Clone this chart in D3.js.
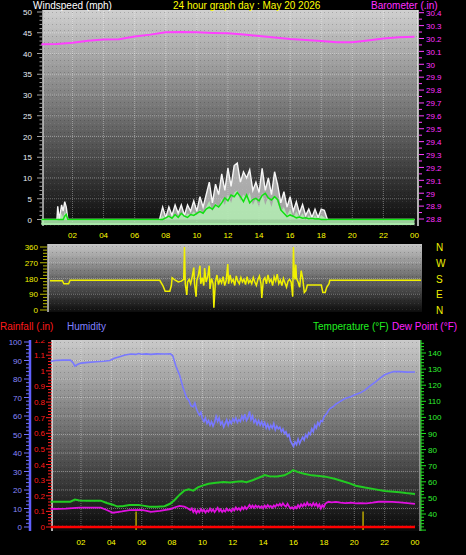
<!DOCTYPE html>
<html><head><meta charset="utf-8">
<script src="https://cdn.jsdelivr.net/npm/d3@7"></script>
<style>body{margin:0;background:#000}svg{display:block}text{font-family:"Liberation Sans",Arial,sans-serif}</style>
</head><body><svg id="c" width="466" height="555"></svg>
<script>
// ---------- DATA ----------
const hourTickVals = [2,4,6,8,10,12,14,16,18,20,22,24];
const hourTickLabels = ["02","04","06","08","10","12","14","16","18","20","22","00"];
const windTicks = [0,5,10,15,20,25,30,35,40,45,50];
const baroTicks = ["28.8","28.9","29","29.1","29.2","29.3","29.4","29.5","29.6","29.7","29.8","29.9","30","30.1","30.2","30.3","30.4"];
const dirTicks = [0,90,180,270,360];
const dirLetters = ["N","E","S","W","N"];
const humTicks = [0,10,20,30,40,50,60,70,80,90,100];
const rainTicks = ["0","0.1","0.2","0.3","0.4","0.5","0.6","0.7","0.8","0.9","1","1.1","1.2"];
const tempTicks = [40,50,60,70,80,90,100,110,120,130,140];

// barometer (inHg) hourly
const baroHours = [0,1,2,3,4,5,6,7,8,9,10,11,12,13,14,15,16,17,18,19,20,21,22,23,24];
const baroVals = [30.155,30.157,30.167,30.183,30.192,30.194,30.215,30.23,30.248,30.25,30.248,30.243,30.24,30.23,30.22,30.207,30.196,30.188,30.18,30.17,30.17,30.185,30.2,30.21,30.214];

// wind (mph)
const windHours = [0,1.0,1.05,1.15,1.3,1.4,1.5,1.6,1.7,7.6,7.8,8.0,8.2,8.4,8.6,8.8,9.0,9.2,9.4,9.6,9.8,10.0,10.2,10.4,10.6,10.8,11.0,11.2,11.4,11.6,11.8,12.0,12.2,12.4,12.6,12.8,13.0,13.2,13.4,13.6,13.8,14.0,14.2,14.4,14.6,14.8,15.0,15.2,15.4,15.6,15.8,16.0,16.2,16.4,16.6,16.8,17.0,17.2,17.4,17.6,17.8,18.0,18.2,18.4,24];
const windGust  = [0,0,3.2,0,3.5,2,4.3,3,0,0,3,0.5,3,1,3.5,1.5,3.5,1,3.5,2,4.5,2,5.5,3,6,9,4,8.5,6,11,7,12.4,8,13,13.6,9,11.5,10,12,7,9,6.5,12.3,7,10,6,11.5,8.3,4,6.7,3,5.5,2,4.3,1.5,3.6,1,2.5,0.5,2.5,0.5,2.5,2.2,0,0];
const windSpeed = [0,0,1,0,1.5,0.5,2,1,0,0,1,0,1,0.5,1.5,0.5,1.5,0.5,1.5,1,2,1,2.5,1.5,3,4.5,2,4,3,5,3.5,6,4,6.5,7,4.5,6,5,6.5,3.5,5,3,6.5,3.5,5.5,3,6,4,2,3,1,2.5,0.5,2,0.5,1.5,0,1,0,1,0,1,0.5,0,0];
const windAvg   = [0,0,0,0,0,0,0.8,1.2,0,0,0,0.4,0.8,0.3,1.2,0.5,1.5,0.8,0.5,1.2,1,1.5,1.9,1.5,2.5,3,2.5,3.5,3,4,5.2,4.5,5.9,5.5,6.5,5.5,4.3,5.9,4,4.8,5.1,4.5,5.8,6.3,5.2,4.7,5.5,4.8,2.3,1.5,0.7,1.1,0.8,0.4,0.6,0.3,0.4,0.2,0.3,0.1,0.2,0,0,0,0];

// wind direction (degrees)
const dirHours = [0,0.8,0.9,1.2,1.3,7.1,7.3,7.45,7.75,7.85,7.9,8.1,8.3,8.5,8.65,8.7,8.75,8.85,8.9,9.0,9.1,9.2,9.3,9.35,9.45,9.5,9.6,9.7,9.75,9.85,9.95,10.0,10.1,10.2,10.3,10.35,10.45,10.55,10.6,10.7,10.8,10.9,11.0,11.1,11.2,11.3,11.4,11.5,11.55,11.65,11.75,11.85,11.95,12.05,12.15,12.25,12.35,12.45,12.55,12.65,12.75,12.85,12.95,13.05,13.15,13.25,13.35,13.45,13.55,13.65,13.7,13.8,13.9,14.0,14.1,14.2,14.3,14.4,14.5,14.6,14.7,14.8,14.9,15.0,15.1,15.2,15.3,15.4,15.5,15.6,15.7,15.75,15.8,15.85,15.9,15.95,16.05,16.15,16.25,16.35,16.45,16.55,16.65,17.55,17.65,17.8,17.9,18.05,18.1,24];
const dirVals  = [167,167,150,150,170,170,140,107,107,140,185,170,160,165,175,360,150,86,160,175,150,190,242,150,76,170,200,253,150,185,140,240,160,190,253,120,180,150,13,160,200,145,175,155,190,140,170,263,150,200,160,175,140,195,165,150,185,160,175,145,190,155,170,150,185,160,140,175,195,150,69,170,185,150,200,160,175,140,190,165,205,150,170,140,180,155,130,165,175,160,76,360,200,175,260,180,160,130,225,180,100,110,143,143,100,100,130,150,170,170];

// humidity (%)
const humHours = [0,0.3,0.8,1.3,1.5,1.6,1.8,2.0,2.5,3.0,3.5,3.9,4.2,4.6,4.9,5.3,5.6,5.8,6.0,6.3,6.6,7.0,7.5,7.9,8.05,8.25,8.5,8.7,8.95,9.1,9.25,9.4,9.5,9.6,9.7,9.8,9.9,10.0,10.1,10.2,10.3,10.4,10.5,10.6,10.7,10.8,10.9,11.0,11.1,11.2,11.3,11.4,11.5,11.6,11.7,11.8,11.9,12.0,12.1,12.2,12.3,12.4,12.5,12.6,12.7,12.8,12.9,13.0,13.1,13.2,13.3,13.4,13.5,13.6,13.7,13.8,13.9,14.0,14.1,14.2,14.3,14.4,14.5,14.6,14.7,14.8,14.9,15.0,15.1,15.2,15.3,15.4,15.5,15.6,15.7,15.8,15.9,16.0,16.1,16.2,16.3,16.4,16.5,16.6,16.7,16.8,16.9,17.0,17.1,17.2,17.3,17.4,17.5,17.6,17.7,17.8,17.9,18.0,18.1,18.2,18.3,18.4,18.6,18.8,19.0,19.2,19.4,19.6,19.8,20.0,20.4,20.7,21.0,21.4,21.7,22.0,22.3,22.6,23.0,23.5,24];
const humVals  = [89.5,90,90.2,90.3,88.5,87,88,88.6,89,89.3,89.6,90,91.2,92.2,93,93.5,93.3,93.8,93.4,93.6,93.3,93.6,93.5,93.6,92.5,87,82,76,70,68.5,65.5,65,67,64,62,60.5,62,58.5,57,59,56,57.5,55,57,54.5,56.5,59.8,57,59,55.5,57,54,56,58,55,57.5,56,58.5,57,59,56.5,58,57,60,58,61,57.5,59,62.5,58,60,56.5,58,55.5,57.5,55,57,54.5,56.5,53.5,55.5,53,55,53.5,56,52.5,54.5,53,54,51.5,53,50.5,51.5,49,50,46.5,45,43.5,46,44.5,47.5,45,47,48.5,47,50,48.5,51,50,53,51.5,55,53.5,56.5,55,57.5,57,59.5,60.5,61.5,63,64,65,66.5,67.5,68.5,69.5,70,70.5,71.3,72.5,74,76,78.5,80.5,82.3,83.3,84,84,83.7,83.8];

// temperature (F)
const tempHours = [0,1.3,1.6,1.9,2.5,3.3,3.7,4.1,4.4,4.8,5.2,5.8,6.1,6.5,7.0,7.5,7.9,8.2,8.5,8.8,9.1,9.4,9.7,10.0,10.4,10.9,11.4,11.8,12.2,12.6,12.9,13.3,13.7,13.9,14.1,14.4,14.9,15.4,15.8,15.97,16.3,16.7,17.2,17.7,18.1,18.7,19.3,19.7,20.1,20.7,21.4,22.0,22.6,23.0,23.4,24];
const tempVals  = [47.6,47.6,49,48.4,48.3,48.3,46.8,45.8,44.6,45,45.6,45.6,45.2,44.5,44.5,44.8,46.5,49,52,54.5,55.3,54.5,56.5,57.6,58.8,59.4,59.8,59.6,60,60.4,59.8,61,62.5,63.3,64.2,63.4,63.3,64,66,67.3,66,65,64,63.6,63.2,61.9,60.2,59,57.6,56.4,55.3,54.3,53.8,53.5,53,52.4];

// dew point (F)
const dewHours = [0,1.0,1.9,3.3,3.7,4.1,4.4,4.7,5.2,6.0,6.4,6.6,7.2,7.9,8.2,8.5,8.8,9.0,9.2,9.3,9.4,9.5,9.6,9.7,9.8,9.9,10.0,10.1,10.2,10.3,10.4,10.5,10.6,10.7,10.8,10.9,11.0,11.1,11.2,11.3,11.4,11.5,11.6,11.7,11.8,11.9,12.0,12.1,12.2,12.3,12.4,12.5,12.6,12.7,12.8,12.9,13.0,13.1,13.2,13.3,13.4,13.5,13.6,13.7,13.8,13.9,14.0,14.1,14.2,14.3,14.4,14.5,14.6,14.7,14.8,14.9,15.0,15.1,15.2,15.3,15.4,15.5,15.6,15.7,15.8,15.9,16.0,16.1,16.2,16.3,16.4,16.5,16.6,16.7,16.8,16.9,17.0,17.1,17.2,17.3,17.4,17.5,17.6,17.7,17.8,17.9,18.0,18.1,18.3,18.5,18.8,19.1,19.4,19.8,20.1,20.4,20.8,21.2,21.6,22.0,22.5,23.0,23.5,24];
const dewVals  = [43.1,43.4,43.9,43.9,42.5,40.8,41.2,41.6,42.4,42.5,41.8,41.3,42,43.1,44.2,45,44.6,43.7,42.5,43.5,41.2,42.8,40.6,42.2,41,43,41.5,42.6,40.9,42.4,41.4,43.3,41.6,42.9,41.2,42.5,43.8,41.7,42.9,41.3,42.4,41.5,43.3,42,42.8,41.6,43.2,42.2,44,42.6,43.6,42.3,44.2,43,44.5,43.1,44.2,45.6,44,45.2,43.8,45.3,44.2,45,43.9,44.8,43.6,45.2,44.1,45.5,44.3,45,43.9,45.3,44.4,46,45.1,46.3,45,46.6,45.3,44.6,46.3,44.8,43.4,44.2,43.1,44.6,43.6,45.5,44.1,46,44.7,46.4,45.1,47,45.4,46.2,44.9,46.8,45.2,46.5,44.5,46,43.5,45.5,44.4,46.5,47.6,47.2,47.5,47,46.8,47,46.6,46.8,46.6,47,47.6,47.6,47.5,47.2,46.8,46.3];

// rainfall (in)
const rainHours = [0,24];
const rainVals = [0,0];
const rainEventHours = [5.63,20.58];
const rainEventVals = [0.1,0.1];

// ---------- DRAW ----------
const svg = d3.select("#c");
const defs = svg.append("defs");
function grad(id, top, bot){
  const g = defs.append("linearGradient").attr("id",id).attr("x1",0).attr("y1",0).attr("x2",0).attr("y2",1);
  g.append("stop").attr("offset","0%").attr("stop-color",top);
  g.append("stop").attr("offset","100%").attr("stop-color",bot);
}
grad("gTop","#d0d0d0","#0a0a0a");
grad("gMid","#c6c6c6","#0c0c0c");
grad("gBot","#cacaca","#080808");
defs.append("clipPath").attr("id","clipTop").append("rect").attr("x",0).attr("y",340).attr("width",466).attr("height",215);
// subtle dither texture
const pat = defs.append("pattern").attr("id","dither").attr("width",4).attr("height",6).attr("patternUnits","userSpaceOnUse");
pat.append("rect").attr("x",0).attr("y",0).attr("width",1).attr("height",1).attr("fill","#000").attr("fill-opacity",0.18);
pat.append("rect").attr("x",2).attr("y",3).attr("width",1).attr("height",1).attr("fill","#fff").attr("fill-opacity",0.1);

function txt(x,y,s,col,size,anchor){
  return svg.append("text").attr("x",x).attr("y",y).text(s).attr("fill",col)
    .attr("font-size",size).attr("text-anchor",anchor||"start");
}

// ===== TOP PANEL =====
const xT = d3.scaleLinear().domain([0,24]).range([41.4,414.5]);
const yW = d3.scaleLinear().domain([0,50]).range([219.5,12]);
const yB = d3.scaleLinear().domain([28.8,30.4]).range([219,12.7]);
svg.append("rect").attr("x",43).attr("y",10).attr("width",375).attr("height",216).attr("fill","url(#gTop)");
svg.append("rect").attr("x",43).attr("y",10).attr("width",375).attr("height",216).attr("fill","url(#dither)");
// grid
const gT = svg.append("g").attr("stroke","#ffffff").attr("stroke-opacity",0.35).attr("stroke-dasharray","1,1");
windTicks.forEach(v=>{ if(v>0 && v<50) gT.append("line").attr("x1",44).attr("x2",417).attr("y1",yW(v)).attr("y2",yW(v)); });
hourTickVals.slice(0,-1).forEach(h=>gT.append("line").attr("x1",xT(h)).attr("x2",xT(h)).attr("y1",11).attr("y2",225));
// frame
svg.append("line").attr("x1",43).attr("x2",43).attr("y1",10).attr("y2",226).attr("stroke","#c8c8c8").attr("stroke-width",1.5);
svg.append("line").attr("x1",418).attr("x2",418).attr("y1",10).attr("y2",226).attr("stroke","#e8e8e8").attr("stroke-width",1.5);
// wind axis ticks
for(let v=0; v<=50; v++){
  const maj = v%5===0;
  svg.append("line").attr("x1",maj?37:39.5).attr("x2",42).attr("y1",yW(v)).attr("y2",yW(v)).attr("stroke","#a0a0a0").attr("stroke-width",1);
}
windTicks.forEach(v=>txt(32,yW(v)+3,String(v),"#e8eef6",8,"end"));
// baro axis
for(let i=0;i<=32;i++){
  const v = 28.8 + i*0.05;
  const maj = i%2===0;
  svg.append("line").attr("x1",419).attr("x2",maj?424:422).attr("y1",yB(v)).attr("y2",yB(v)).attr("stroke","#ff40ff").attr("stroke-width",1);
}
baroTicks.forEach(s=>txt(426,yB(+s)+3.3,s,"#ff30ff",8,"start"));
// x labels
hourTickVals.forEach((h,i)=>txt(xT(h),238,hourTickLabels[i],"#ffff00",8,"middle"));

// wind marks
const wd = windHours.map((h,i)=>({h, g:windGust[i], s:windSpeed[i], a:windAvg[i]}));
svg.append("path").datum(wd).attr("fill","rgba(225,225,225,0.7)")
  .attr("d",d3.area().x(d=>xT(d.h)).y0(yW(0)).y1(d=>yW(d.g)));
svg.append("path").datum(wd).attr("fill","rgba(180,238,180,0.85)")
  .attr("d",d3.area().x(d=>xT(d.h)).y0(yW(0)+4.5).y1(d=>yW(d.s)));
svg.append("path").datum(wd).attr("fill","none").attr("stroke","#f6f6f6").attr("stroke-width",1.4)
  .attr("d",d3.line().x(d=>xT(d.h)).y(d=>yW(d.g)));
svg.append("path").datum(wd).attr("fill","none").attr("stroke","#a8e8a8").attr("stroke-width",2)
  .attr("d",d3.line().x(d=>xT(d.h)).y(d=>yW(0)+4.5));
svg.append("path").datum(wd).attr("fill","none").attr("stroke","#10e010").attr("stroke-width",1.5)
  .attr("d",d3.line().x(d=>xT(d.h)).y(d=>yW(d.a)));
// barometer line
svg.append("path").datum(baroHours.map((h,i)=>[h,baroVals[i]])).attr("fill","none")
  .attr("stroke","#ff40ff").attr("stroke-width",2)
  .attr("d",d3.line().x(d=>xT(d[0])).y(d=>yB(d[1])));

// titles
txt(33,9,"Windspeed (mph)","#ffffff",10);
txt(173,9,"24 hour graph day : May 20 2026","#ffff00",10);
txt(371,9,"Barometer (.in)","#ff30ff",10);

// ===== MIDDLE PANEL =====
const xM = d3.scaleLinear().domain([0,24]).range([50,421]);
const yD = d3.scaleLinear().domain([0,360]).range([310,247]);
svg.append("rect").attr("x",48).attr("y",244).attr("width",374).attr("height",68).attr("fill","url(#gMid)");
svg.append("rect").attr("x",48).attr("y",244).attr("width",374).attr("height",68).attr("fill","url(#dither)");
const gM = svg.append("g").attr("stroke","#ffffff").attr("stroke-opacity",0.3).attr("stroke-dasharray","1,1");
[90,180,270].forEach(v=>gM.append("line").attr("x1",49).attr("x2",421).attr("y1",yD(v)).attr("y2",yD(v)));
svg.append("line").attr("x1",48).attr("x2",48).attr("y1",244).attr("y2",312).attr("stroke","#c8c8c8").attr("stroke-width",1.5);
for(let v=0; v<=360; v+=18){
  const maj = v%90===0;
  svg.append("line").attr("x1",maj?40:43).attr("x2",47).attr("y1",yD(v)).attr("y2",yD(v)).attr("stroke","#b8b800").attr("stroke-width",1);
}
dirTicks.forEach(v=>txt(38,yD(v)+3,String(v),"#f0f000",8,"end"));
dirTicks.forEach((v,i)=>txt(436,yD(v)+4,dirLetters[i],"#f0f000",10,"start"));
svg.append("path").datum(dirHours.map((h,i)=>[h,dirVals[i]])).attr("fill","none")
  .attr("stroke","#f0f000").attr("stroke-width",1.5)
  .attr("d",d3.line().x(d=>xM(d[0])).y(d=>yD(d[1])));

// ===== BOTTOM PANEL =====
const xB = d3.scaleLinear().domain([0,24]).range([50.6,415]);
const yH = d3.scaleLinear().domain([0,100]).range([527,342]);
const yR = d3.scaleLinear().domain([0,1.2]).range([527,339.6]);
const yTp = d3.scaleLinear().domain([40,140]).range([514,353]);
svg.append("rect").attr("x",52).attr("y",340).attr("width",368).attr("height",191).attr("fill","url(#gBot)");
svg.append("rect").attr("x",52).attr("y",340).attr("width",368).attr("height",191).attr("fill","url(#dither)");
const gB = svg.append("g").attr("stroke","#ffffff").attr("stroke-opacity",0.35).attr("stroke-dasharray","1,1");
humTicks.forEach(v=>{ if(v>0 && v<100) gB.append("line").attr("x1",53).attr("x2",419).attr("y1",yH(v)).attr("y2",yH(v)); });
hourTickVals.slice(0,-1).forEach(h=>gB.append("line").attr("x1",xB(h)).attr("x2",xB(h)).attr("y1",341).attr("y2",530));
svg.append("line").attr("x1",52).attr("x2",52).attr("y1",340).attr("y2",531).attr("stroke","#e8e8e8").attr("stroke-width",1.5);
svg.append("line").attr("x1",420).attr("x2",420).attr("y1",340).attr("y2",531).attr("stroke","#d8d8d8").attr("stroke-width",1);
// humidity axis
svg.append("line").attr("x1",30).attr("x2",30).attr("y1",340).attr("y2",531).attr("stroke","#6060ff").attr("stroke-width",2.5);
for(let v=0; v<=100; v+=2){
  const maj = v%10===0;
  svg.append("line").attr("x1",maj?24:26).attr("x2",29).attr("y1",yH(v)).attr("y2",yH(v)).attr("stroke","#7070ff").attr("stroke-width",1);
}
humTicks.forEach(v=>txt(22,yH(v)+3,String(v),"#8888ff",8,"end"));
// rain axis
for(let i=0;i<=60;i++){
  const v = i*0.02;
  const maj = i%5===0;
  const yy = yR(v); if(yy<340) continue;
  svg.append("line").attr("x1",maj?46:48).attr("x2",52).attr("y1",yy).attr("y2",yy).attr("stroke","#ff2020").attr("stroke-width",1);
}
const rl = svg.append("g").attr("clip-path","url(#clipTop)");
rainTicks.forEach(s=>rl.append("text").attr("x",45).attr("y",yR(+s)+3).attr("text-anchor","end")
  .attr("fill","#ff1a1a").attr("font-size",8).text(s));
// temp axis
svg.append("line").attr("x1",421).attr("x2",421).attr("y1",340).attr("y2",531).attr("stroke","#20e020").attr("stroke-width",1);
for(let v=30; v<=146; v+=2){
  const yy = yTp(v); if(yy<340||yy>531) continue;
  const maj = v%10===0;
  svg.append("line").attr("x1",421).attr("x2",maj?426:424).attr("y1",yy).attr("y2",yy).attr("stroke","#20e020").attr("stroke-width",1);
}
tempTicks.forEach(v=>txt(428,yTp(v)+3,String(v),"#30f030",8,"start"));
hourTickVals.forEach((h,i)=>txt(xB(h),545,hourTickLabels[i],"#ffff00",8,"middle"));

// humidity line
svg.append("path").datum(humHours.map((h,i)=>[h,humVals[i]])).attr("fill","none")
  .attr("stroke","#7878ff").attr("stroke-width",1.6)
  .attr("d",d3.line().x(d=>xB(d[0])).y(d=>yH(d[1])));
// temperature
svg.append("path").datum(tempHours.map((h,i)=>[h,tempVals[i]])).attr("fill","none")
  .attr("stroke","#22cc22").attr("stroke-width",2)
  .attr("d",d3.line().x(d=>xB(d[0])).y(d=>yTp(d[1])));
// dew point
svg.append("path").datum(dewHours.map((h,i)=>[h,dewVals[i]])).attr("fill","none")
  .attr("stroke","#e010e0").attr("stroke-width",1.8)
  .attr("d",d3.line().x(d=>xB(d[0])).y(d=>yTp(d[1])));
// rain events
rainEventHours.forEach((h,i)=>svg.append("line").attr("x1",xB(h)).attr("x2",xB(h))
  .attr("y1",yR(rainEventVals[i])).attr("y2",530).attr("stroke","#b8a400").attr("stroke-width",1.5));
// rainfall line
svg.append("path").datum(rainHours.map((h,i)=>[h,rainVals[i]])).attr("fill","none")
  .attr("stroke","#ff0000").attr("stroke-width",2.5)
  .attr("d",d3.line().x(d=>xB(d[0])).y(d=>yR(d[1])));

// titles
txt(0,330,"Rainfall (.in)","#ff1a1a",10);
txt(67,330,"Humidity","#8080ff",10);
txt(313,330,"Temperature (°F)","#20f020",10);
txt(392,330,"Dew Point (°F)","#ff20ff",10);
</script></body></html>
